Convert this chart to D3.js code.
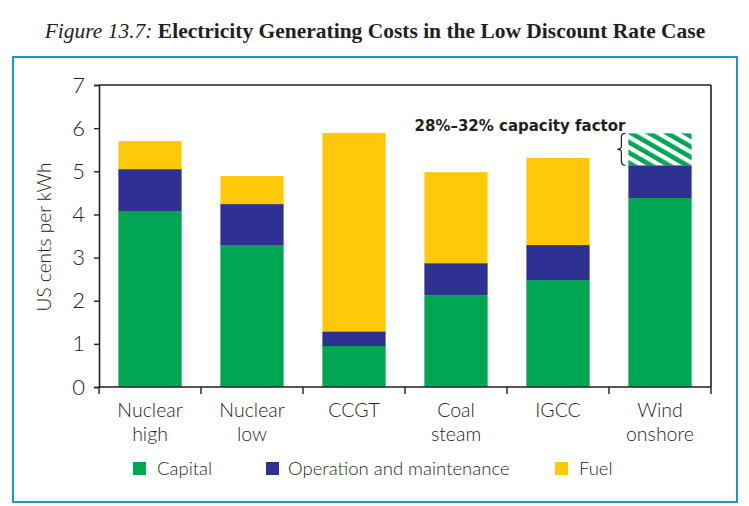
<!DOCTYPE html>
<html><head><meta charset="utf-8">
<script src="https://cdn.jsdelivr.net/npm/d3@7"></script>
<style>
body{margin:0;background:#fff;}
svg{display:block;}
</style></head>
<body><svg id="c" width="749" height="506"></svg>
<script>
const categories = ["Nuclear high","Nuclear low","CCGT","Coal steam","IGCC","Wind onshore"];
const catLines = [["Nuclear","high"],["Nuclear","low"],["CCGT"],["Coal","steam"],["IGCC"],["Wind","onshore"]];
const capital = [4.08, 3.29, 0.95, 2.13, 2.48, 4.38];
const om      = [0.97, 0.95, 0.34, 0.74, 0.81, 0.76];
const fuel    = [0.65, 0.65, 4.60, 2.11, 2.02, 0];
const capacityRange = [0, 0, 0, 0, 0, 0.74];
const yTicks = [0,1,2,3,4,5,6,7];
const seriesNames = ["Capital","Operation and maintenance","Fuel"];
const colors = {"Capital":"#00a651","Operation and maintenance":"#2e3192","Fuel":"#ffc90a"};

const svg = d3.select("#c");
const ink = "#231f20";
const sans = "Lato, 'Open Sans', sans-serif";

function fit(sel, size, target){
  sel.attr("font-size", size);
  const w = sel.node().getComputedTextLength();
  sel.attr("font-size", size*target/w);
}

// outer blue frame
svg.append("rect").attr("x",13).attr("y",57).attr("width",724).attr("height",445)
  .attr("fill","none").attr("stroke","#1a96d0").attr("stroke-width",2);

// title
const title = svg.append("text").attr("x",375).attr("y",38).attr("text-anchor","middle")
  .attr("font-family","'Liberation Serif', serif").attr("fill",ink);
title.append("tspan").attr("font-style","italic").text("Figure 13.7: ");
title.append("tspan").attr("font-weight","bold").text("Electricity Generating Costs in the Low Discount Rate Case");
fit(title, 21, 661);

const x = d3.scaleBand().domain(categories).range([99,711]).paddingInner(0.38).paddingOuter(0.19);
const y = d3.scaleLinear().domain([0,7]).range([387,85]);

const rows = categories.map((c,i)=>({cat:c, Capital:capital[i], "Operation and maintenance":om[i], Fuel:fuel[i]}));
const stacked = d3.stack().keys(seriesNames)(rows);

// hatch pattern
const defs = svg.append("defs");
const pat = defs.append("pattern").attr("id","hatch").attr("patternUnits","userSpaceOnUse")
  .attr("width",20).attr("height",9).attr("patternTransform","rotate(30)");
pat.append("rect").attr("width",20).attr("height",9).attr("fill","#00a651");
pat.append("rect").attr("y",0).attr("width",20).attr("height",4.3).attr("fill","#fff");

svg.append("g").selectAll("g").data(stacked).join("g").attr("fill",d=>colors[d.key])
  .selectAll("rect").data(d=>d).join("rect")
  .attr("x",d=>x(d.data.cat)).attr("width",x.bandwidth())
  .attr("y",d=>y(d[1])).attr("height",d=>y(d[0])-y(d[1]));

// wind capacity-factor range (hatched)
const rangeData = categories.map((c,i)=>({cat:c, base:capital[i]+om[i]+fuel[i], v:capacityRange[i]})).filter(d=>d.v>0);
svg.append("g").selectAll("rect").data(rangeData).join("rect")
  .attr("x",d=>x(d.cat)).attr("width",x.bandwidth())
  .attr("y",d=>y(d.base+d.v)).attr("height",d=>y(d.base)-y(d.base+d.v))
  .attr("fill","url(#hatch)");

// brace + label
rangeData.forEach(d=>{
  const x0 = x(d.cat)-7, y0 = y(d.base+d.v), y1 = y(d.base), ym=(y0+y1)/2;
  const p = `M${x0+4},${y0} Q${x0},${y0} ${x0},${y0+4} L${x0},${ym-3} Q${x0},${ym} ${x0-4},${ym} Q${x0},${ym} ${x0},${ym+3} L${x0},${y1-4} Q${x0},${y1} ${x0+4},${y1}`;
  svg.append("path").attr("d",p).attr("fill","none").attr("stroke",ink).attr("stroke-width",1.2);
  const t = svg.append("text").attr("x",x(d.cat)-3).attr("y",y0-2).attr("text-anchor","end")
    .attr("font-family","'DejaVu Sans', sans-serif").attr("font-weight","bold").attr("fill",ink)
    .text("28%–32% capacity factor");
  fit(t, 14, 211);
});

// axes frame
const ax = svg.append("g").attr("stroke",ink).attr("stroke-width",1.6).attr("fill","none");
ax.append("line").attr("x1",99).attr("x2",711).attr("y1",y(7)).attr("y2",y(7));
ax.append("line").attr("x1",711).attr("x2",711).attr("y1",y(7)).attr("y2",y(0));

const yAxis = svg.append("g").attr("transform","translate(99,0)")
  .call(d3.axisLeft(y).tickValues(yTicks).tickSize(5).tickPadding(9).tickFormat(d3.format("d")));
yAxis.select(".domain").attr("stroke",ink).attr("stroke-width",1.6);
yAxis.selectAll(".tick line").attr("stroke",ink).attr("stroke-width",1.4);
yAxis.selectAll(".tick text").attr("font-family",sans).attr("font-size",22).attr("fill",ink).attr("font-weight",300);

const bounds = categories.map(c=>x(c)-x.step()*x.paddingInner()/2).concat([711]);
svg.append("line").attr("x1",99).attr("x2",711).attr("y1",y(0)).attr("y2",y(0)).attr("stroke",ink).attr("stroke-width",1.6);
svg.append("g").selectAll("line").data(bounds).join("line")
  .attr("x1",d=>d).attr("x2",d=>d).attr("y1",y(0)).attr("y2",y(0)+7).attr("stroke",ink).attr("stroke-width",1.4);

// category labels
const cl = svg.append("g").selectAll("text").data(categories).join("text")
  .attr("x",d=>x(d)+x.bandwidth()/2).attr("y",417).attr("text-anchor","middle")
  .attr("font-family",sans).attr("font-size",19.5).attr("font-weight",300).attr("fill",ink);
cl.each(function(d,i){
  const t = d3.select(this);
  catLines[i].forEach((ln,j)=>t.append("tspan").attr("x",x(d)+x.bandwidth()/2).attr("dy",j?24:0).text(ln));
});

// y label
const yl = svg.append("text").attr("transform","translate(51,237) rotate(-90)").attr("text-anchor","middle")
  .attr("font-family",sans).attr("font-weight",300).attr("fill",ink).text("US cents per kWh");
fit(yl, 18, 149);

// legend
const legX = [133, 266, 555];
const legW = [64, 220, 36];
const lg = svg.append("g").selectAll("g").data(seriesNames).join("g")
  .attr("transform",(d,i)=>`translate(${legX[i]},462)`);
lg.append("rect").attr("width",13).attr("height",13).attr("fill",d=>colors[d]);
lg.append("text").attr("x",d=>d==="Operation and maintenance"?22:24).attr("y",13)
  .attr("font-family",sans).attr("font-size",18.5).attr("font-weight",300).attr("fill",ink).text(d=>d);
</script></body></html>
